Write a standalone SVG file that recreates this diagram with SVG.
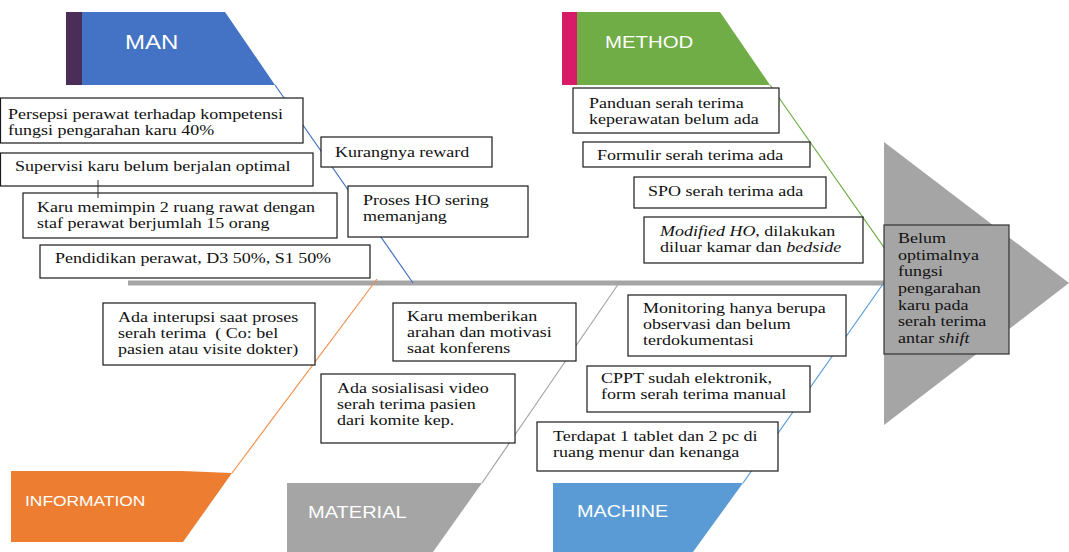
<svg xmlns="http://www.w3.org/2000/svg" width="1069" height="552" viewBox="0 0 1069 552">
<style>
.box{fill:#fff;stroke:#1a1a1a;stroke-width:1.2}
.t{font-family:"Liberation Serif","Times New Roman",serif;font-size:15px;fill:#111}
.lbl{font-family:"Liberation Sans",Arial,sans-serif;fill:#fff}
.bone{fill:none;stroke-width:1.2}
</style>
<rect width="1069" height="552" fill="#fff"/>
<g id="head">
<polygon points="884,142 1069,283 884,425" fill="#a5a5a5"/>
</g>
<g id="connectors">
<line x1="128" y1="283" x2="886" y2="283" stroke="#a5a5a5" stroke-width="5"/>
<line class="bone" x1="275" y1="85" x2="413" y2="283" stroke="#4472c4"/>
<line class="bone" x1="770" y1="85" x2="909" y2="283" stroke="#70ad47"/>
<line class="bone" x1="232" y1="473" x2="377" y2="279" stroke="#f0904f"/>
<line class="bone" x1="482" y1="483" x2="619" y2="283" stroke="#a5a5a5"/>
<line class="bone" x1="743" y1="483" x2="883" y2="284" stroke="#5b9bd5"/>
</g>
<g id="cat-man">
<rect x="66" y="12" width="16" height="73" fill="#4a2e57"/>
<polygon points="82,12 225,12 275,85 82,85" fill="#4472c4"/>
<text class="lbl" font-size="20" transform="translate(125,49) scale(1.2,1)">MAN</text>
</g>
<g id="cat-method">
<rect x="562" y="12" width="15" height="73" fill="#d81b68"/>
<polygon points="577,12 720,12 770,85 577,85" fill="#70ad47"/>
<text class="lbl" font-size="17" transform="translate(605,48) scale(1.2,1)">METHOD</text>
</g>
<g id="cat-information">
<polygon points="11,471 182,471 232,473 183,542 11,542" fill="#ed7d31"/>
<text class="lbl" font-size="14.5" transform="translate(25,506) scale(1.2,1)">INFORMATION</text>
</g>
<g id="cat-material">
<polygon points="287,483 482,483 433,552 287,552" fill="#a5a5a5"/>
<text class="lbl" font-size="16.7" transform="translate(308,518) scale(1.2,1)">MATERIAL</text>
</g>
<g id="cat-machine">
<polygon points="553,483 743,483 693,552 553,552" fill="#5b9bd5"/>
<text class="lbl" font-size="16.5" transform="translate(577,517) scale(1.2,1)">MACHINE</text>
</g>
<g id="man-1">
<rect class="box" x="0.5" y="98" width="302.5" height="45"/>
<text class="t" transform="translate(8,119) scale(1.2,1)"><tspan x="0" y="0">Persepsi perawat terhadap kompetensi</tspan><tspan x="0" y="16">fungsi pengarahan karu 40%</tspan></text>
</g>
<g id="man-2">
<rect class="box" x="321" y="137" width="171" height="30"/>
<text class="t" transform="translate(335,157) scale(1.2,1)">Kurangnya reward</text>
</g>
<g id="man-3">
<rect class="box" x="0.5" y="153" width="312.5" height="33"/>
<text class="t" transform="translate(15,171) scale(1.2,1)">Supervisi karu belum berjalan optimal</text>
</g>
<g id="man-4">
<rect class="box" x="23" y="193" width="314" height="45"/>
<text class="t" transform="translate(37,212) scale(1.2,1)"><tspan x="0" y="0">Karu memimpin 2 ruang rawat dengan</tspan><tspan x="0" y="16">staf perawat berjumlah 15 orang</tspan></text>
</g>
<g id="man-5">
<rect class="box" x="40" y="245" width="330" height="33"/>
<text class="t" transform="translate(55,263) scale(1.2,1)">Pendidikan perawat, D3 50%, S1 50%</text>
</g>
<g id="man-6">
<rect class="box" x="348" y="186" width="180" height="51"/>
<text class="t" transform="translate(363,205) scale(1.2,1)"><tspan x="0" y="0">Proses HO sering</tspan><tspan x="0" y="16">memanjang</tspan></text>
</g>
<g id="tick">
<line x1="98" y1="180" x2="98" y2="198" stroke="#333" stroke-width="1"/>
</g>
<g id="method-1">
<rect class="box" x="573" y="88" width="206" height="45"/>
<text class="t" transform="translate(589,108) scale(1.2,1)"><tspan x="0" y="0">Panduan serah terima</tspan><tspan x="0" y="16">keperawatan belum ada</tspan></text>
</g>
<g id="method-2">
<rect class="box" x="583" y="142" width="227" height="25"/>
<text class="t" transform="translate(597,160) scale(1.2,1)">Formulir serah terima ada</text>
</g>
<g id="method-3">
<rect class="box" x="634" y="177" width="192" height="31"/>
<text class="t" transform="translate(648,196) scale(1.2,1)">SPO serah terima ada</text>
</g>
<g id="method-4">
<rect class="box" x="644" y="217" width="219" height="46"/>
<text class="t" transform="translate(660,236) scale(1.2,1)"><tspan x="0" y="0"><tspan font-style="italic">Modified HO</tspan>, dilakukan</tspan><tspan x="0" y="16">diluar kamar dan <tspan font-style="italic">bedside</tspan></tspan></text>
</g>
<g id="info-1">
<rect class="box" x="103" y="303" width="212" height="62"/>
<text class="t" transform="translate(118,322) scale(1.2,1)"><tspan x="0" y="0">Ada interupsi saat proses</tspan><tspan x="0" y="16">serah terima &#160;( Co: bel</tspan><tspan x="0" y="32">pasien atau visite dokter)</tspan></text>
</g>
<g id="material-1">
<rect class="box" x="393" y="303" width="183" height="58"/>
<text class="t" transform="translate(407,321) scale(1.2,1)"><tspan x="0" y="0">Karu memberikan</tspan><tspan x="0" y="16">arahan dan motivasi</tspan><tspan x="0" y="32">saat konferens</tspan></text>
</g>
<g id="material-2">
<rect class="box" x="321" y="374" width="194" height="69"/>
<text class="t" transform="translate(337,393) scale(1.2,1)"><tspan x="0" y="0">Ada sosialisasi video</tspan><tspan x="0" y="16">serah terima pasien</tspan><tspan x="0" y="32">dari komite kep.</tspan></text>
</g>
<g id="machine-1">
<rect class="box" x="628" y="295" width="218" height="61"/>
<text class="t" transform="translate(643,313) scale(1.2,1)"><tspan x="0" y="0">Monitoring hanya berupa</tspan><tspan x="0" y="16">observasi dan belum</tspan><tspan x="0" y="32">terdokumentasi</tspan></text>
</g>
<g id="machine-2">
<rect class="box" x="587" y="366" width="223" height="46"/>
<text class="t" transform="translate(601,383) scale(1.2,1)"><tspan x="0" y="0">CPPT sudah elektronik,</tspan><tspan x="0" y="16">form serah terima manual</tspan></text>
</g>
<g id="machine-3">
<rect class="box" x="537" y="422" width="241" height="49"/>
<text class="t" transform="translate(553,441) scale(1.2,1)"><tspan x="0" y="0">Terdapat 1 tablet dan 2 pc di</tspan><tspan x="0" y="16">ruang menur dan kenanga</tspan></text>
</g>
<g id="effect">
<rect x="884" y="225" width="125" height="129" fill="#a5a5a5" stroke="#333" stroke-width="1.2"/>
<text class="t" transform="translate(898,243) scale(1.2,1)"><tspan x="0" y="0">Belum</tspan><tspan x="0" y="16.7">optimalnya</tspan><tspan x="0" y="33.4">fungsi</tspan><tspan x="0" y="50.1">pengarahan</tspan><tspan x="0" y="66.8">karu pada</tspan><tspan x="0" y="83.5">serah terima</tspan><tspan x="0" y="100.2">antar <tspan font-style="italic">shift</tspan></tspan></text>
</g>
</svg>
